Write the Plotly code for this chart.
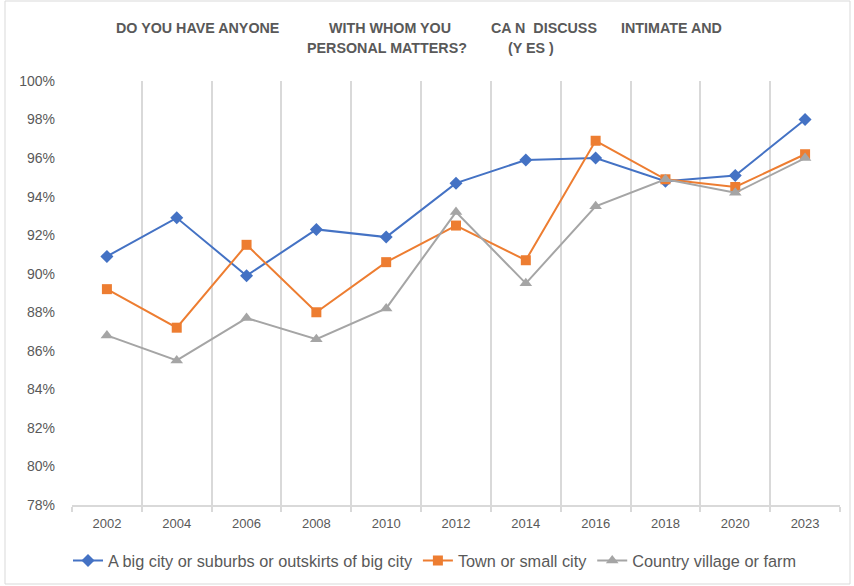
import plotly.graph_objects as go

years = ["2002", "2004", "2006", "2008", "2010", "2012", "2014", "2016", "2018", "2020", "2023"]
big_city = [90.9, 92.9, 89.9, 92.3, 91.9, 94.7, 95.9, 96.0, 94.8, 95.1, 98.0]
town = [89.2, 87.2, 91.5, 88.0, 90.6, 92.5, 90.7, 96.9, 94.9, 94.5, 96.2]
country = [86.8, 85.5, 87.7, 86.6, 88.2, 93.2, 89.5, 93.5, 94.9, 94.2, 96.0]

series_names = ["A big city or suburbs or outskirts of big city", "Town or small city", "Country village or farm"]
title_line1 = ["DO YOU HAVE ANYONE", "WITH WHOM YOU", "CA N  DISCUSS", "INTIMATE AND"]
title_line2 = ["PERSONAL MATTERS?", "(Y ES )"]

W, H = 854, 586
L, R, T, B = 72, 14, 81, 81
pw, ph = W - L - R, H - T - B

def px_x(x):
    return (x - L) / pw

def px_y(y):
    return (H - B - y) / ph

FONT = "Liberation Sans"
TXT = "#595959"

fig = go.Figure()
styles = [
    ("#4472C4", "diamond", 10),
    ("#ED7D31", "square", 10),
    ("#A5A5A5", "triangle-up", 11),
]
for name, vals, (col, sym, sz) in zip(series_names, [big_city, town, country], styles):
    fig.add_trace(go.Scatter(
        x=years, y=vals, name=name, mode="lines+markers",
        line=dict(color=col, width=2),
        marker=dict(symbol=sym, size=sz, color=col),
    ))

annotations = []
for txt, x in zip(title_line1, [197, 390, 544, 671]):
    annotations.append(dict(text=txt, x=px_x(x), y=px_y(28), xref="paper", yref="paper",
                            xanchor="center", yanchor="middle", showarrow=False,
                            font=dict(family=FONT, size=14.3, color=TXT, weight="bold")))
for txt, x in zip(title_line2, [387, 531]):
    annotations.append(dict(text=txt, x=px_x(x), y=px_y(48), xref="paper", yref="paper",
                            xanchor="center", yanchor="middle", showarrow=False,
                            font=dict(family=FONT, size=14.3, color=TXT, weight="bold")))

fig.update_layout(
    width=W, height=H,
    margin=dict(l=L, r=R, t=T, b=B, autoexpand=False),
    paper_bgcolor="white", plot_bgcolor="white",
    font=dict(family=FONT, size=13, color=TXT),
    annotations=annotations,
    showlegend=True,
    legend=dict(orientation="h", x=px_x(435), xanchor="center",
                y=px_y(561), yanchor="middle", font=dict(size=16.3, color=TXT),
                itemwidth=30, tracegroupgap=0),
    xaxis=dict(type="category", range=[-0.5, 10.5], tickson="boundaries",
               showgrid=True, gridcolor="#d9d9d9", gridwidth=1.5,
               showline=True, linecolor="#d9d9d9", linewidth=1.5,
               ticks="outside", ticklen=5, tickcolor="#d9d9d9", tickwidth=1.5,
               tickangle=0, automargin=False, ticklabelstandoff=6,
               tickfont=dict(size=13, color=TXT), fixedrange=True),
    yaxis=dict(range=[78, 100], dtick=2, ticksuffix="%", showgrid=False,
               zeroline=False, showline=False, ticks="", automargin=False,
               tickfont=dict(size=14, color=TXT), ticklabelstandoff=16),
    shapes=[dict(type="rect", xref="paper", yref="paper",
                 x0=px_x(5), x1=px_x(850), y0=px_y(584), y1=px_y(1),
                 line=dict(color="#d9d9d9", width=1), fillcolor="rgba(0,0,0,0)", layer="below")],
)

fig.write_html("out.html")
